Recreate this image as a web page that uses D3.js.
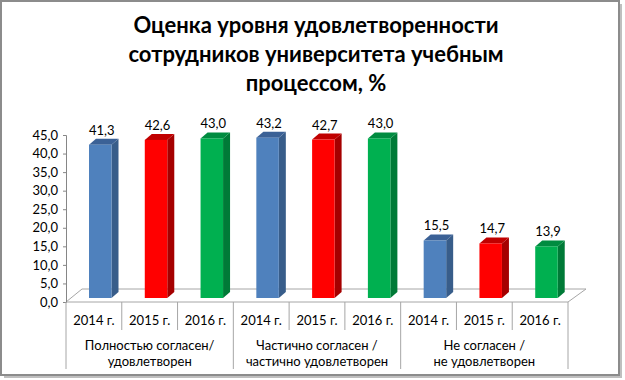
<!DOCTYPE html>
<html><head><meta charset="utf-8">
<script src="https://cdn.jsdelivr.net/npm/d3@7/dist/d3.min.js"></script>
<style>html,body{margin:0;padding:0;background:#fff}svg{display:block}</style>
</head><body>
<script>
const titleLines = ["Оценка уровня удовлетворенности", "сотрудников университета учебным", "процессом, %"];
const groups = [["Полностью согласен/", "удовлетворен"], ["Частично согласен /", "частично удовлетворен"], ["Не согласен /", "не удовлетворен"]];
const years = ["2014 г.", "2015 г.", "2016 г."];
const values2014 = [41.3, 43.2, 15.5];
const values2015 = [42.6, 42.7, 14.7];
const values2016 = [43.0, 43.0, 13.9];
const yTicks = [0, 5, 10, 15, 20, 25, 30, 35, 40, 45];

const W = 625, H = 380;
const font = "Lato, 'Open Sans', sans-serif";
const svg = d3.select("body").append("svg").attr("width", W).attr("height", H);

// frame with shadow
svg.append("rect").attr("x", 4).attr("y", 4).attr("width", 618).attr("height", 374).attr("fill", "#bfbfbf");
svg.append("rect").attr("x", 1).attr("y", 1).attr("width", 618).attr("height", 374)
  .attr("fill", "#fff").attr("stroke", "#8c8c8c").attr("stroke-width", 2);

const seriesColors = [
  {front: "#4F81BD", side: "#385D8A", top: "#3B6196"},
  {front: "#FF0000", side: "#A50000", top: "#C00000"},
  {front: "#00B050", side: "#007A37", top: "#008C40"}
];
const series = [values2014, values2015, values2016];

const cats = [];
groups.forEach((g, gi) => years.forEach((yr, si) => cats.push({id: gi * 3 + si, gi, si, year: yr, value: series[si][gi]})));

const x = d3.scaleBand().domain(cats.map(c => c.id)).range([66, 568]).padding(0);
const y = d3.scaleLinear().domain([0, 45]).range([302, 135]);

const depthX = 18, depthY = 13;
const x0 = x.range()[0], x1 = x.range()[1], yb = y(0);
svg.append("polygon")
  .attr("points", [[x0, yb], [x1, yb], [x1 + depthX, yb - depthY], [x0 + depthX - 2, yb - depthY]].map(p => p.join(",")).join(" "))
  .attr("fill", "#fff").attr("stroke", "#a6a6a6").attr("stroke-width", 1);

const yAxis = d3.axisLeft(y).tickValues(yTicks).tickSize(3).tickPadding(5)
  .tickFormat(d => d3.format(".1f")(d).replace(".", ","));
const gy = svg.append("g").attr("transform", `translate(${x0},0)`).call(yAxis);
gy.select(".domain").attr("stroke", "#868686");
gy.selectAll(".tick line").attr("stroke", "#868686");
gy.selectAll("text").attr("font-family", font).attr("font-size", 13).attr("fill", "#000");

const bw = 22.5, bOff = 23, sdx = 7, sdy = 6, lift = 4;
const bars = svg.append("g");
cats.forEach(c => {
  const col = seriesColors[c.si];
  const xl = x(c.id) + bOff, xr = xl + bw;
  const yt = y(c.value) - lift, ybot = y(0) - lift;
  bars.append("polygon")
    .attr("points", [[xr, ybot], [xr + sdx, ybot - sdy], [xr + sdx, yt - sdy], [xr, yt]].map(p => p.join(",")).join(" "))
    .attr("fill", col.side);
  bars.append("polygon")
    .attr("points", [[xl, yt], [xr, yt], [xr + sdx, yt - sdy], [xl + sdx, yt - sdy]].map(p => p.join(",")).join(" "))
    .attr("fill", col.top);
  bars.append("rect").attr("x", xl).attr("y", yt).attr("width", bw).attr("height", ybot - yt).attr("fill", col.front);
  bars.append("text").attr("x", xl + bw / 2 + 1.5).attr("y", yt - sdy - 4)
    .attr("text-anchor", "middle").attr("font-family", font).attr("font-size", 13).attr("fill", "#000")
    .text(d3.format(".1f")(c.value).replace(".", ","));
});

const tbl = svg.append("g");
const bounds = x.domain().map(d => x(d)).concat([x1]);
bounds.forEach((bx, i) => {
  const big = i % 3 === 0;
  tbl.append("line").attr("x1", bx).attr("x2", bx).attr("y1", yb).attr("y2", big ? 369 : 330)
    .attr("stroke", "#a6a6a6").attr("stroke-width", 1);
});
cats.forEach(c => {
  tbl.append("text").attr("x", x(c.id) + x.bandwidth() / 2).attr("y", 325)
    .attr("text-anchor", "middle").attr("font-family", font).attr("font-size", 13).attr("fill", "#000").text(c.year);
});
groups.forEach((g, gi) => {
  const cx = (x(gi * 3) + x(gi * 3 + 2) + x.bandwidth()) / 2;
  g.forEach((ln, li) => {
    tbl.append("text").attr("x", cx).attr("y", 350 + li * 16)
      .attr("text-anchor", "middle").attr("font-family", font).attr("font-size", 13).attr("fill", "#000").text(ln);
  });
});

const tg = svg.append("g");
titleLines.forEach((t, i) => {
  tg.append("text").attr("x", 316).attr("y", 33 + i * 29).attr("text-anchor", "middle")
    .attr("font-family", font).attr("font-weight", "bold").attr("font-size", 22).attr("fill", "#000").text(t);
});
</script>
</body></html>
